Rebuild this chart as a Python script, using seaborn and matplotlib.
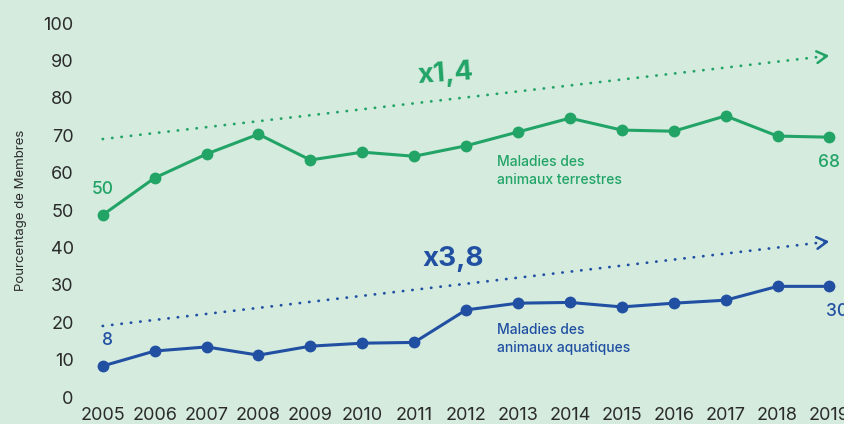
import matplotlib
matplotlib.use("Agg")
import matplotlib.pyplot as plt
import seaborn as sns
import pandas as pd

years = list(range(2005, 2020))
terrestres = [48.7, 58.6, 65.0, 70.3, 63.4, 65.5, 64.4, 67.2, 70.9, 74.6, 71.4, 71.1, 75.2, 69.8, 69.5]
aquatiques = [8.3, 12.3, 13.4, 11.2, 13.6, 14.4, 14.6, 23.3, 25.1, 25.3, 24.1, 25.1, 25.9, 29.6, 29.6]
trend_terrestres = [69.0, 91.3]
trend_aquatiques = [19.0, 41.6]
yticks = list(range(0, 101, 10))

GREEN = "#22a467"
BLUE = "#2150a3"
BG = "#d4ebde"

df = pd.DataFrame({"annee": years * 2,
                   "valeur": terrestres + aquatiques,
                   "serie": ["terrestres"] * len(years) + ["aquatiques"] * len(years)})

sns.set_theme(style="white")
plt.rcParams['font.family'] = ['Inter', 'DejaVu Sans']

fig = plt.figure(figsize=(8.45, 4.24), dpi=100, facecolor=BG)
ax = fig.add_axes([0.097, 0.046, 0.903, 0.917])
ax.set_facecolor(BG)

sns.lineplot(data=df, x="annee", y="valeur", hue="serie",
             palette={"terrestres": GREEN, "aquatiques": BLUE},
             marker="o", markersize=8.5, markeredgewidth=0, linewidth=2.2,
             legend=False, ax=ax)

# dotted trend lines with open arrow heads
for trend, col in [(trend_terrestres, GREEN), (trend_aquatiques, BLUE)]:
    ax.plot([years[0], years[-1]], trend, color=col, lw=2.0,
            linestyle=(0, (0.1, 3.3)), dash_capstyle="round")
    slope = (trend[1] - trend[0]) / (years[-1] - years[0])
    ax.annotate("", xy=(years[-1] + 0.05, trend[1] + 0.05 * slope),
                xytext=(years[-1] - 0.15, trend[1] - 0.15 * slope),
                arrowprops=dict(arrowstyle="->,head_length=0.6,head_width=0.35",
                                color=col, lw=1.8))

ax.text(2011.6, 86.5, "x1,4", color=GREEN, fontsize=20, fontweight="bold",
        ha="center", va="center", rotation=4)
ax.text(2011.75, 37.0, "x3,8", color=BLUE, fontsize=20, fontweight="bold",
        ha="center", va="center")

ax.text(2012.6, 64.8, "Maladies des\nanimaux terrestres", color=GREEN,
        fontsize=10, fontweight="medium", ha="left", va="top", linespacing=1.4)
ax.text(2012.6, 19.8, "Maladies des\nanimaux aquatiques", color=BLUE,
        fontsize=10, fontweight="medium", ha="left", va="top", linespacing=1.4)

ax.text(years[0], terrestres[0] + 4.5, "50", color=GREEN, fontsize=12.5,
        fontweight="medium", ha="center", va="bottom")
ax.text(years[-1], terrestres[-1] - 4.5, "68", color=GREEN, fontsize=12.5,
        fontweight="medium", ha="center", va="top")
ax.text(years[0] + 0.1, aquatiques[0] + 4.5, "8", color=BLUE, fontsize=12.5,
        fontweight="medium", ha="center", va="bottom")
ax.text(years[-1] + 0.15, aquatiques[-1] - 4.5, "30", color=BLUE, fontsize=12.5,
        fontweight="medium", ha="center", va="top")

ax.set_xlim(2004.6, 2019.3)
ax.set_ylim(-2, 102)
ax.set_yticks(yticks)
ax.set_xticks(years)
ax.tick_params(axis="both", labelsize=13, labelcolor="#2b2b2b", length=0, pad=6)
ax.tick_params(axis="x", pad=2)
ax.set_xlabel("")
ax.set_ylabel("Pourcentage de Membres", fontsize=9.5, color="#2b2b2b", labelpad=12)
for s in ax.spines.values():
    s.set_visible(False)
ax.grid(False)

fig.savefig("out.png", dpi=100, facecolor=BG)
